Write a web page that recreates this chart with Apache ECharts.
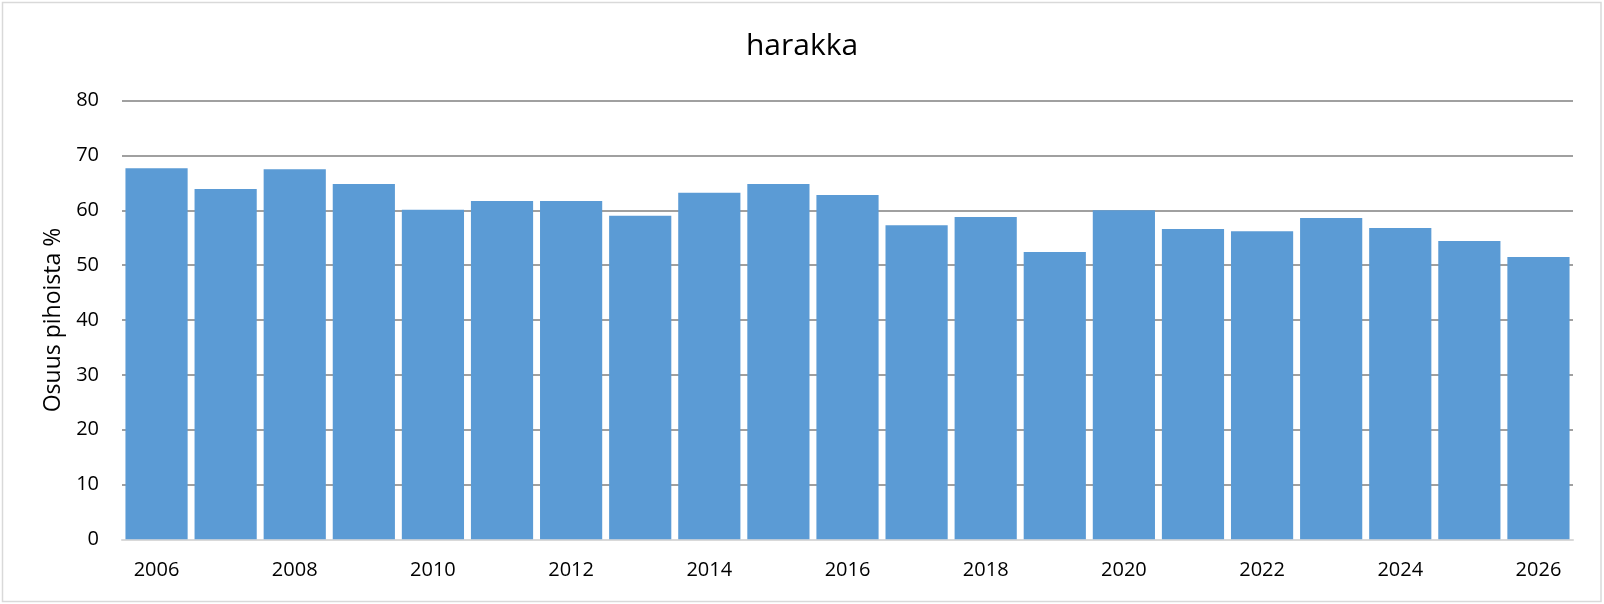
<!DOCTYPE html>
<html>
<head>
<meta charset="utf-8">
<script src="https://cdn.jsdelivr.net/npm/echarts@6/dist/echarts.min.js"></script>
<style>
  html, body { margin: 0; padding: 0; background: #ffffff; }
  #chart { width: 1604px; height: 604px; }
</style>
</head>
<body>
<div id="chart"></div>
<script>
const titleText = 'harakka';
const yAxisName = 'Osuus pihoista %';
const years = ['2006','2007','2008','2009','2010','2011','2012','2013','2014','2015','2016',
               '2017','2018','2019','2020','2021','2022','2023','2024','2025','2026'];
const shares = [67.7, 63.9, 67.5, 64.8, 60.1, 61.7, 61.7, 59.0, 63.2, 64.8, 62.8,
                57.3, 58.8, 52.4, 60.0, 56.6, 56.2, 58.6, 56.8, 54.4, 51.5];
const yMin = 0, yMax = 80, yStep = 10;

const chart = echarts.init(document.getElementById('chart'), null, { renderer: 'canvas' });
const font = '"Open Sans", "Liberation Sans", sans-serif';
chart.setOption({
  animation: false,
  backgroundColor: '#ffffff',
  title: {
    text: titleText,
    left: 'center',
    top: 26,
    textStyle: { fontFamily: font, fontSize: 30, fontWeight: 'normal', color: '#000000' }
  },
  graphic: [{
    type: 'rect',
    shape: { x: 2.5, y: 2.5, width: 1598.5, height: 599 },
    style: { fill: 'none', stroke: '#d9d9d9', lineWidth: 1.5 },
    silent: true
  }],
  grid: { left: 122, right: 31, top: 100.7, bottom: 64.7, containLabel: false },
  xAxis: {
    type: 'category',
    data: years,
    axisLine: { show: true, lineStyle: { color: '#d9d9d9', width: 2 } },
    axisTick: { show: false },
    axisLabel: { interval: 1, margin: 21, fontFamily: font, fontSize: 20, color: '#000000' },
    splitLine: { show: false }
  },
  yAxis: {
    type: 'value',
    min: yMin, max: yMax, interval: yStep,
    name: yAxisName,
    nameLocation: 'middle',
    nameGap: 57,
    nameTextStyle: { fontFamily: font, fontSize: 23, color: '#000000' },
    axisLine: { show: false },
    axisTick: { show: false },
    axisLabel: { margin: 23, fontFamily: font, fontSize: 20, color: '#000000' },
    splitLine: { show: true, lineStyle: { color: '#808080', width: 1.5 } }
  },
  series: [{
    type: 'bar',
    data: shares,
    barCategoryGap: '10%',
    itemStyle: { color: '#5b9bd5' },
    silent: true
  }]
});
</script>
</body>
</html>
